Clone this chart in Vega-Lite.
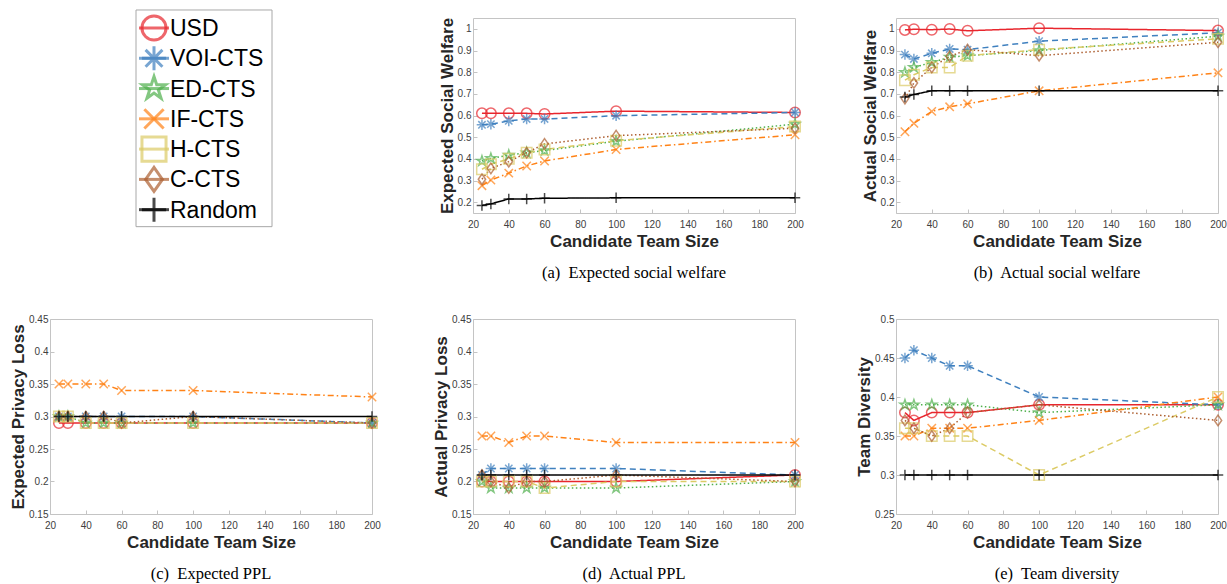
{
  "$schema": "https://vega.github.io/schema/vega-lite/v6.json",
  "autosize": {"type": "none"},
  "padding": {"left": 50, "top": 18, "right": 1177, "bottom": 566},
  "background": "white",
  "datasets": {
    "leg": [
      {"m": "USD"}, {"m": "VOI-CTS"}, {"m": "ED-CTS"}, {"m": "IF-CTS"}, {"m": "H-CTS"}, {"m": "C-CTS"}, {"m": "Random"}
    ],
    "d": [
      {"m": "USD", "n": 25, "esw": 0.61, "asw": 0.995, "epl": 0.29, "apl": 0.2, "div": 0.38},
      {"m": "USD", "n": 30, "esw": 0.61, "asw": 0.998, "epl": 0.29, "apl": 0.2, "div": 0.37},
      {"m": "USD", "n": 40, "esw": 0.61, "asw": 0.996, "epl": 0.29, "apl": 0.2, "div": 0.38},
      {"m": "USD", "n": 50, "esw": 0.61, "asw": 0.999, "epl": 0.29, "apl": 0.2, "div": 0.38},
      {"m": "USD", "n": 60, "esw": 0.607, "asw": 0.991, "epl": 0.29, "apl": 0.2, "div": 0.38},
      {"m": "USD", "n": 100, "esw": 0.62, "asw": 1.003, "epl": 0.29, "apl": 0.2, "div": 0.39},
      {"m": "USD", "n": 200, "esw": 0.614, "asw": 0.992, "epl": 0.29, "apl": 0.21, "div": 0.39},
      {"m": "VOI-CTS", "n": 25, "esw": 0.557, "asw": 0.881, "epl": 0.3, "apl": 0.21, "div": 0.45},
      {"m": "VOI-CTS", "n": 30, "esw": 0.56, "asw": 0.861, "epl": 0.3, "apl": 0.22, "div": 0.46},
      {"m": "VOI-CTS", "n": 40, "esw": 0.575, "asw": 0.887, "epl": 0.3, "apl": 0.22, "div": 0.45},
      {"m": "VOI-CTS", "n": 50, "esw": 0.584, "asw": 0.907, "epl": 0.3, "apl": 0.22, "div": 0.44},
      {"m": "VOI-CTS", "n": 60, "esw": 0.584, "asw": 0.904, "epl": 0.3, "apl": 0.22, "div": 0.44},
      {"m": "VOI-CTS", "n": 100, "esw": 0.599, "asw": 0.943, "epl": 0.3, "apl": 0.22, "div": 0.4},
      {"m": "VOI-CTS", "n": 200, "esw": 0.614, "asw": 0.982, "epl": 0.29, "apl": 0.21, "div": 0.39},
      {"m": "ED-CTS", "n": 25, "esw": 0.39, "asw": 0.799, "epl": 0.3, "apl": 0.2, "div": 0.39},
      {"m": "ED-CTS", "n": 30, "esw": 0.402, "asw": 0.822, "epl": 0.3, "apl": 0.19, "div": 0.39},
      {"m": "ED-CTS", "n": 40, "esw": 0.417, "asw": 0.845, "epl": 0.29, "apl": 0.19, "div": 0.39},
      {"m": "ED-CTS", "n": 50, "esw": 0.428, "asw": 0.869, "epl": 0.29, "apl": 0.19, "div": 0.39},
      {"m": "ED-CTS", "n": 60, "esw": 0.438, "asw": 0.876, "epl": 0.29, "apl": 0.19, "div": 0.39},
      {"m": "ED-CTS", "n": 100, "esw": 0.481, "asw": 0.9, "epl": 0.29, "apl": 0.19, "div": 0.38},
      {"m": "ED-CTS", "n": 200, "esw": 0.56, "asw": 0.966, "epl": 0.29, "apl": 0.2, "div": 0.39},
      {"m": "IF-CTS", "n": 25, "esw": 0.276, "asw": 0.525, "epl": 0.35, "apl": 0.27, "div": 0.35},
      {"m": "IF-CTS", "n": 30, "esw": 0.302, "asw": 0.564, "epl": 0.35, "apl": 0.27, "div": 0.35},
      {"m": "IF-CTS", "n": 40, "esw": 0.334, "asw": 0.619, "epl": 0.35, "apl": 0.26, "div": 0.36},
      {"m": "IF-CTS", "n": 50, "esw": 0.367, "asw": 0.64, "epl": 0.35, "apl": 0.27, "div": 0.36},
      {"m": "IF-CTS", "n": 60, "esw": 0.39, "asw": 0.654, "epl": 0.34, "apl": 0.27, "div": 0.36},
      {"m": "IF-CTS", "n": 100, "esw": 0.443, "asw": 0.714, "epl": 0.34, "apl": 0.26, "div": 0.37},
      {"m": "IF-CTS", "n": 200, "esw": 0.511, "asw": 0.797, "epl": 0.33, "apl": 0.26, "div": 0.4},
      {"m": "H-CTS", "n": 25, "esw": 0.352, "asw": 0.763, "epl": 0.3, "apl": 0.2, "div": 0.36},
      {"m": "H-CTS", "n": 30, "esw": 0.375, "asw": 0.788, "epl": 0.3, "apl": 0.2, "div": 0.36},
      {"m": "H-CTS", "n": 40, "esw": 0.4, "asw": 0.822, "epl": 0.29, "apl": 0.2, "div": 0.35},
      {"m": "H-CTS", "n": 50, "esw": 0.428, "asw": 0.822, "epl": 0.29, "apl": 0.2, "div": 0.35},
      {"m": "H-CTS", "n": 60, "esw": 0.443, "asw": 0.876, "epl": 0.29, "apl": 0.19, "div": 0.35},
      {"m": "H-CTS", "n": 100, "esw": 0.484, "asw": 0.904, "epl": 0.29, "apl": 0.2, "div": 0.3},
      {"m": "H-CTS", "n": 200, "esw": 0.549, "asw": 0.954, "epl": 0.29, "apl": 0.2, "div": 0.4},
      {"m": "C-CTS", "n": 25, "esw": 0.306, "asw": 0.678, "epl": 0.3, "apl": 0.21, "div": 0.37},
      {"m": "C-CTS", "n": 30, "esw": 0.356, "asw": 0.75, "epl": 0.3, "apl": 0.2, "div": 0.36},
      {"m": "C-CTS", "n": 40, "esw": 0.387, "asw": 0.822, "epl": 0.3, "apl": 0.19, "div": 0.35},
      {"m": "C-CTS", "n": 50, "esw": 0.428, "asw": 0.873, "epl": 0.3, "apl": 0.2, "div": 0.36},
      {"m": "C-CTS", "n": 60, "esw": 0.469, "asw": 0.904, "epl": 0.29, "apl": 0.2, "div": 0.38},
      {"m": "C-CTS", "n": 100, "esw": 0.507, "asw": 0.876, "epl": 0.3, "apl": 0.21, "div": 0.39},
      {"m": "C-CTS", "n": 200, "esw": 0.541, "asw": 0.938, "epl": 0.29, "apl": 0.2, "div": 0.37},
      {"m": "Random", "n": 25, "esw": 0.185, "asw": 0.685, "epl": 0.3, "apl": 0.21, "div": 0.3},
      {"m": "Random", "n": 30, "esw": 0.192, "asw": 0.697, "epl": 0.3, "apl": 0.21, "div": 0.3},
      {"m": "Random", "n": 40, "esw": 0.215, "asw": 0.714, "epl": 0.3, "apl": 0.21, "div": 0.3},
      {"m": "Random", "n": 50, "esw": 0.215, "asw": 0.714, "epl": 0.3, "apl": 0.21, "div": 0.3},
      {"m": "Random", "n": 60, "esw": 0.218, "asw": 0.714, "epl": 0.3, "apl": 0.21, "div": 0.3},
      {"m": "Random", "n": 100, "esw": 0.22, "asw": 0.714, "epl": 0.3, "apl": 0.21, "div": 0.3},
      {"m": "Random", "n": 200, "esw": 0.22, "asw": 0.714, "epl": 0.3, "apl": 0.21, "div": 0.3}
    ]
  },
  "columns": 3,
  "bounds": "flush",
  "spacing": {"column": 101, "row": 106},
  "concat": [
    {
      "data": {"name": "leg"},
      "width": 322,
      "height": 195,
      "view": {"stroke": null},
      "encoding": {
        "y": {"field": "m", "type": "nominal", "axis": null, "scale": {"type": "point", "domain": ["USD", "VOI-CTS", "ED-CTS", "IF-CTS", "H-CTS", "C-CTS", "Random"], "padding": 0.22, "align": 0.75}}
      },
      "layer": [
        {
          "transform": [{"aggregate": [{"op": "count", "as": "k"}]}],
          "mark": {"type": "rect", "fill": "#ffffff", "stroke": "#a8a8a8", "strokeWidth": 1, "yOffset": -18, "y2Offset": 17, "xOffset": 86, "x2Offset": -100},
          "encoding": {
            "x": {"datum": 0, "type": "quantitative", "scale": {"domain": [0, 1]}, "axis": null},
            "x2": {"datum": 1},
            "y": {"datum": "USD", "type": "nominal"},
            "y2": {"datum": "Random"}
          }
        },
        {
          "mark": {"type": "point", "shape": "stroke", "filled": false, "size": 900, "strokeWidth": 3, "xOffset": -57},
          "encoding": {
            "color": {"field": "m", "type": "nominal", "legend": null, "scale": {"domain": ["USD", "VOI-CTS", "ED-CTS", "IF-CTS", "H-CTS", "C-CTS", "Random"], "range": ["#e8262d", "#3f80bf", "#4fb04c", "#ff8216", "#dccb66", "#ad5f30", "#000000"]}}
          }
        },
        {
          "mark": {"type": "point", "filled": false, "size": 580, "strokeWidth": 3, "xOffset": -57},
          "encoding": {
            "color": {"field": "m", "type": "nominal", "legend": null, "scale": {"domain": ["USD", "VOI-CTS", "ED-CTS", "IF-CTS", "H-CTS", "C-CTS", "Random"], "range": ["#e8262d", "#3f80bf", "#4fb04c", "#ff8216", "#dccb66", "#ad5f30", "#000000"]}},
            "shape": {"field": "m", "type": "nominal", "legend": null, "scale": {"domain": ["USD", "VOI-CTS", "ED-CTS", "IF-CTS", "H-CTS", "C-CTS", "Random"], "range": ["circle", "M-1,0L1,0M0,-1L0,1M-0.7,-0.7L0.7,0.7M-0.7,0.7L0.7,-0.7", "M0,-1L0.2245,-0.309L0.951,-0.309L0.363,0.118L0.588,0.809L0,0.382L-0.588,0.809L-0.363,0.118L-0.951,-0.309L-0.2245,-0.309Z", "M-0.8,-0.8L0.8,0.8M-0.8,0.8L0.8,-0.8", "square", "M0,-1L0.7,0L0,1L-0.7,0Z", "M-1,0L1,0M0,-1L0,1"]}}
          }
        },
        {
          "mark": {"type": "text", "align": "left", "baseline": "middle", "font": "Liberation Sans", "fontSize": 23, "color": "#000000", "xOffset": -41, "yOffset": 1},
          "encoding": {
            "text": {"field": "m", "type": "nominal"}
          }
        }
      ]
    },
    {
      "data": {"name": "d"},
      "width": 322,
      "height": 195,
      "title": {"text": "(a)\u00a0 Expected social welfare"},
      "encoding": {
        "x": {"field": "n", "type": "quantitative", "title": "Candidate Team Size", "scale": {"domain": [20, 200], "nice": false, "zero": false}, "axis": {"values": [20, 40, 60, 80, 100, 120, 140, 160, 180, 200]}},
        "y": {"field": "esw", "type": "quantitative", "title": "Expected Social Welfare", "scale": {"domain": [0.15, 1.05], "nice": false, "zero": false}, "axis": {"values": [0.2, 0.3, 0.4, 0.5, 0.6, 0.7, 0.8, 0.9, 1], "format": "~g"}}
      },
      "layer": [
        {"mark": {"type": "line", "strokeWidth": 1.5},
         "encoding": {
           "stroke": {"field": "m", "type": "nominal", "legend": null, "scale": {"domain": ["USD", "VOI-CTS", "ED-CTS", "IF-CTS", "H-CTS", "C-CTS", "Random"], "range": ["#e8262d", "#3f80bf", "#4fb04c", "#ff8216", "#dccb66", "#ad5f30", "#000000"]}},
           "strokeDash": {"field": "m", "type": "nominal", "legend": null, "scale": {"domain": ["USD", "VOI-CTS", "ED-CTS", "IF-CTS", "H-CTS", "C-CTS", "Random"], "range": [[1, 0], [6, 4], [1.5, 2.5], [6, 3, 1.5, 3], [6, 4], [1.5, 2.5], [1, 0]]}}
         }},
        {"mark": {"type": "point", "filled": false, "size": 110, "strokeWidth": 1.5},
         "encoding": {
           "color": {"field": "m", "type": "nominal", "legend": null, "scale": {"domain": ["USD", "VOI-CTS", "ED-CTS", "IF-CTS", "H-CTS", "C-CTS", "Random"], "range": ["#e8262d", "#3f80bf", "#4fb04c", "#ff8216", "#dccb66", "#ad5f30", "#000000"]}},
           "shape": {"field": "m", "type": "nominal", "legend": null, "scale": {"domain": ["USD", "VOI-CTS", "ED-CTS", "IF-CTS", "H-CTS", "C-CTS", "Random"], "range": ["circle", "M-1,0L1,0M0,-1L0,1M-0.7,-0.7L0.7,0.7M-0.7,0.7L0.7,-0.7", "M0,-1L0.2245,-0.309L0.951,-0.309L0.363,0.118L0.588,0.809L0,0.382L-0.588,0.809L-0.363,0.118L-0.951,-0.309L-0.2245,-0.309Z", "M-0.8,-0.8L0.8,0.8M-0.8,0.8L0.8,-0.8", "square", "M0,-1L0.7,0L0,1L-0.7,0Z", "M-1,0L1,0M0,-1L0,1"]}}
         }}
      ]
    },
    {
      "data": {"name": "d"},
      "width": 322,
      "height": 195,
      "title": {"text": "(b)\u00a0 Actual social welfare"},
      "encoding": {
        "x": {"field": "n", "type": "quantitative", "title": "Candidate Team Size", "scale": {"domain": [20, 200], "nice": false, "zero": false}, "axis": {"values": [20, 40, 60, 80, 100, 120, 140, 160, 180, 200]}},
        "y": {"field": "asw", "type": "quantitative", "title": "Actual Social Welfare", "scale": {"domain": [0.15, 1.05], "nice": false, "zero": false}, "axis": {"values": [0.2, 0.3, 0.4, 0.5, 0.6, 0.7, 0.8, 0.9, 1], "format": "~g"}}
      },
      "layer": [
        {"mark": {"type": "line", "strokeWidth": 1.5},
         "encoding": {
           "stroke": {"field": "m", "type": "nominal", "legend": null, "scale": {"domain": ["USD", "VOI-CTS", "ED-CTS", "IF-CTS", "H-CTS", "C-CTS", "Random"], "range": ["#e8262d", "#3f80bf", "#4fb04c", "#ff8216", "#dccb66", "#ad5f30", "#000000"]}},
           "strokeDash": {"field": "m", "type": "nominal", "legend": null, "scale": {"domain": ["USD", "VOI-CTS", "ED-CTS", "IF-CTS", "H-CTS", "C-CTS", "Random"], "range": [[1, 0], [6, 4], [1.5, 2.5], [6, 3, 1.5, 3], [6, 4], [1.5, 2.5], [1, 0]]}}
         }},
        {"mark": {"type": "point", "filled": false, "size": 110, "strokeWidth": 1.5},
         "encoding": {
           "color": {"field": "m", "type": "nominal", "legend": null, "scale": {"domain": ["USD", "VOI-CTS", "ED-CTS", "IF-CTS", "H-CTS", "C-CTS", "Random"], "range": ["#e8262d", "#3f80bf", "#4fb04c", "#ff8216", "#dccb66", "#ad5f30", "#000000"]}},
           "shape": {"field": "m", "type": "nominal", "legend": null, "scale": {"domain": ["USD", "VOI-CTS", "ED-CTS", "IF-CTS", "H-CTS", "C-CTS", "Random"], "range": ["circle", "M-1,0L1,0M0,-1L0,1M-0.7,-0.7L0.7,0.7M-0.7,0.7L0.7,-0.7", "M0,-1L0.2245,-0.309L0.951,-0.309L0.363,0.118L0.588,0.809L0,0.382L-0.588,0.809L-0.363,0.118L-0.951,-0.309L-0.2245,-0.309Z", "M-0.8,-0.8L0.8,0.8M-0.8,0.8L0.8,-0.8", "square", "M0,-1L0.7,0L0,1L-0.7,0Z", "M-1,0L1,0M0,-1L0,1"]}}
         }}
      ]
    },
    {
      "data": {"name": "d"},
      "width": 322,
      "height": 195,
      "title": {"text": "(c)\u00a0 Expected PPL"},
      "encoding": {
        "x": {"field": "n", "type": "quantitative", "title": "Candidate Team Size", "scale": {"domain": [20, 200], "nice": false, "zero": false}, "axis": {"values": [20, 40, 60, 80, 100, 120, 140, 160, 180, 200]}},
        "y": {"field": "epl", "type": "quantitative", "title": "Expected Privacy Loss", "scale": {"domain": [0.15, 0.45], "nice": false, "zero": false}, "axis": {"values": [0.15, 0.2, 0.25, 0.3, 0.35, 0.4, 0.45], "format": "~g"}}
      },
      "layer": [
        {"mark": {"type": "line", "strokeWidth": 1.5},
         "encoding": {
           "stroke": {"field": "m", "type": "nominal", "legend": null, "scale": {"domain": ["USD", "VOI-CTS", "ED-CTS", "IF-CTS", "H-CTS", "C-CTS", "Random"], "range": ["#e8262d", "#3f80bf", "#4fb04c", "#ff8216", "#dccb66", "#ad5f30", "#000000"]}},
           "strokeDash": {"field": "m", "type": "nominal", "legend": null, "scale": {"domain": ["USD", "VOI-CTS", "ED-CTS", "IF-CTS", "H-CTS", "C-CTS", "Random"], "range": [[1, 0], [6, 4], [1.5, 2.5], [6, 3, 1.5, 3], [6, 4], [1.5, 2.5], [1, 0]]}}
         }},
        {"mark": {"type": "point", "filled": false, "size": 110, "strokeWidth": 1.5},
         "encoding": {
           "color": {"field": "m", "type": "nominal", "legend": null, "scale": {"domain": ["USD", "VOI-CTS", "ED-CTS", "IF-CTS", "H-CTS", "C-CTS", "Random"], "range": ["#e8262d", "#3f80bf", "#4fb04c", "#ff8216", "#dccb66", "#ad5f30", "#000000"]}},
           "shape": {"field": "m", "type": "nominal", "legend": null, "scale": {"domain": ["USD", "VOI-CTS", "ED-CTS", "IF-CTS", "H-CTS", "C-CTS", "Random"], "range": ["circle", "M-1,0L1,0M0,-1L0,1M-0.7,-0.7L0.7,0.7M-0.7,0.7L0.7,-0.7", "M0,-1L0.2245,-0.309L0.951,-0.309L0.363,0.118L0.588,0.809L0,0.382L-0.588,0.809L-0.363,0.118L-0.951,-0.309L-0.2245,-0.309Z", "M-0.8,-0.8L0.8,0.8M-0.8,0.8L0.8,-0.8", "square", "M0,-1L0.7,0L0,1L-0.7,0Z", "M-1,0L1,0M0,-1L0,1"]}}
         }}
      ]
    },
    {
      "data": {"name": "d"},
      "width": 322,
      "height": 195,
      "title": {"text": "(d)\u00a0 Actual PPL"},
      "encoding": {
        "x": {"field": "n", "type": "quantitative", "title": "Candidate Team Size", "scale": {"domain": [20, 200], "nice": false, "zero": false}, "axis": {"values": [20, 40, 60, 80, 100, 120, 140, 160, 180, 200]}},
        "y": {"field": "apl", "type": "quantitative", "title": "Actual Privacy Loss", "scale": {"domain": [0.15, 0.45], "nice": false, "zero": false}, "axis": {"values": [0.15, 0.2, 0.25, 0.3, 0.35, 0.4, 0.45], "format": "~g"}}
      },
      "layer": [
        {"mark": {"type": "line", "strokeWidth": 1.5},
         "encoding": {
           "stroke": {"field": "m", "type": "nominal", "legend": null, "scale": {"domain": ["USD", "VOI-CTS", "ED-CTS", "IF-CTS", "H-CTS", "C-CTS", "Random"], "range": ["#e8262d", "#3f80bf", "#4fb04c", "#ff8216", "#dccb66", "#ad5f30", "#000000"]}},
           "strokeDash": {"field": "m", "type": "nominal", "legend": null, "scale": {"domain": ["USD", "VOI-CTS", "ED-CTS", "IF-CTS", "H-CTS", "C-CTS", "Random"], "range": [[1, 0], [6, 4], [1.5, 2.5], [6, 3, 1.5, 3], [6, 4], [1.5, 2.5], [1, 0]]}}
         }},
        {"mark": {"type": "point", "filled": false, "size": 110, "strokeWidth": 1.5},
         "encoding": {
           "color": {"field": "m", "type": "nominal", "legend": null, "scale": {"domain": ["USD", "VOI-CTS", "ED-CTS", "IF-CTS", "H-CTS", "C-CTS", "Random"], "range": ["#e8262d", "#3f80bf", "#4fb04c", "#ff8216", "#dccb66", "#ad5f30", "#000000"]}},
           "shape": {"field": "m", "type": "nominal", "legend": null, "scale": {"domain": ["USD", "VOI-CTS", "ED-CTS", "IF-CTS", "H-CTS", "C-CTS", "Random"], "range": ["circle", "M-1,0L1,0M0,-1L0,1M-0.7,-0.7L0.7,0.7M-0.7,0.7L0.7,-0.7", "M0,-1L0.2245,-0.309L0.951,-0.309L0.363,0.118L0.588,0.809L0,0.382L-0.588,0.809L-0.363,0.118L-0.951,-0.309L-0.2245,-0.309Z", "M-0.8,-0.8L0.8,0.8M-0.8,0.8L0.8,-0.8", "square", "M0,-1L0.7,0L0,1L-0.7,0Z", "M-1,0L1,0M0,-1L0,1"]}}
         }}
      ]
    },
    {
      "data": {"name": "d"},
      "width": 322,
      "height": 195,
      "title": {"text": "(e)\u00a0 Team diversity"},
      "encoding": {
        "x": {"field": "n", "type": "quantitative", "title": "Candidate Team Size", "scale": {"domain": [20, 200], "nice": false, "zero": false}, "axis": {"values": [20, 40, 60, 80, 100, 120, 140, 160, 180, 200]}},
        "y": {"field": "div", "type": "quantitative", "title": "Team Diversity", "scale": {"domain": [0.25, 0.5], "nice": false, "zero": false}, "axis": {"values": [0.25, 0.3, 0.35, 0.4, 0.45, 0.5], "format": "~g"}}
      },
      "layer": [
        {"mark": {"type": "line", "strokeWidth": 1.5},
         "encoding": {
           "stroke": {"field": "m", "type": "nominal", "legend": null, "scale": {"domain": ["USD", "VOI-CTS", "ED-CTS", "IF-CTS", "H-CTS", "C-CTS", "Random"], "range": ["#e8262d", "#3f80bf", "#4fb04c", "#ff8216", "#dccb66", "#ad5f30", "#000000"]}},
           "strokeDash": {"field": "m", "type": "nominal", "legend": null, "scale": {"domain": ["USD", "VOI-CTS", "ED-CTS", "IF-CTS", "H-CTS", "C-CTS", "Random"], "range": [[1, 0], [6, 4], [1.5, 2.5], [6, 3, 1.5, 3], [6, 4], [1.5, 2.5], [1, 0]]}}
         }},
        {"mark": {"type": "point", "filled": false, "size": 110, "strokeWidth": 1.5},
         "encoding": {
           "color": {"field": "m", "type": "nominal", "legend": null, "scale": {"domain": ["USD", "VOI-CTS", "ED-CTS", "IF-CTS", "H-CTS", "C-CTS", "Random"], "range": ["#e8262d", "#3f80bf", "#4fb04c", "#ff8216", "#dccb66", "#ad5f30", "#000000"]}},
           "shape": {"field": "m", "type": "nominal", "legend": null, "scale": {"domain": ["USD", "VOI-CTS", "ED-CTS", "IF-CTS", "H-CTS", "C-CTS", "Random"], "range": ["circle", "M-1,0L1,0M0,-1L0,1M-0.7,-0.7L0.7,0.7M-0.7,0.7L0.7,-0.7", "M0,-1L0.2245,-0.309L0.951,-0.309L0.363,0.118L0.588,0.809L0,0.382L-0.588,0.809L-0.363,0.118L-0.951,-0.309L-0.2245,-0.309Z", "M-0.8,-0.8L0.8,0.8M-0.8,0.8L0.8,-0.8", "square", "M0,-1L0.7,0L0,1L-0.7,0Z", "M-1,0L1,0M0,-1L0,1"]}}
         }}
      ]
    }
  ],
  "config": {
    "font": "Liberation Sans",
    "view": {"stroke": "#c4c4c4"},
    "axis": {
      "domain": false,
      "grid": false,
      "labelFlush": false,
      "tickColor": "#c4c4c4",
      "tickSize": -4,
      "labelPadding": 6,
      "labelFont": "Liberation Sans",
      "labelFontSize": 10,
      "labelColor": "#404040",
      "titleFont": "Liberation Sans",
      "titleFontSize": 17,
      "titleFontWeight": "bold",
      "titleColor": "#262626"
    },
    "axisX": {"titlePadding": 4, "labelPadding": 10},
    "axisY": {"titlePadding": 1},
    "title": {"orient": "bottom", "anchor": "middle", "font": "Liberation Serif", "fontSize": 16.5, "fontWeight": "normal", "color": "#000000", "offset": 16}
  }
}
